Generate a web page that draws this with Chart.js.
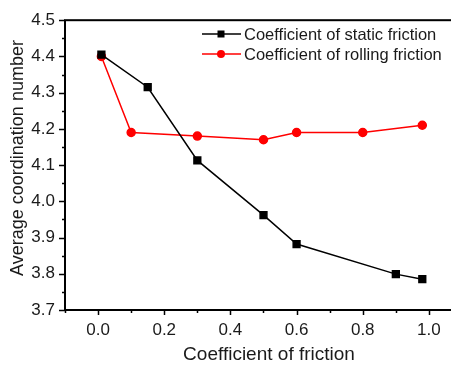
<!DOCTYPE html>
<html>
<head>
<meta charset="utf-8">
<script src="https://cdn.jsdelivr.net/npm/chart.js@4"></script>
<style>
  html, body { margin: 0; padding: 0; background: #fff; overflow: hidden; }
  #wrap { width: 472px; height: 365px; }
</style>
</head>
<body>
<div id="wrap"><canvas id="chart" width="472" height="365"></canvas></div>
<script>
// friction coefficient vs. average coordination number
let staticX = [0.01, 0.15, 0.3, 0.5, 0.6, 0.9, 0.98];
let staticY = [4.405, 4.315, 4.113, 3.962, 3.882, 3.799, 3.785];

let rollingX = [0.01, 0.1, 0.3, 0.5, 0.6, 0.8, 0.98];
let rollingY = [4.40, 4.19, 4.18, 4.17, 4.19, 4.19, 4.21];

let seriesNames = ["Coefficient of static friction", "Coefficient of rolling friction"];
let xTickLabels = ["0.0", "0.2", "0.4", "0.6", "0.8", "1.0"];
let yTickLabels = ["3.7", "3.8", "3.9", "4.0", "4.1", "4.2", "4.3", "4.4", "4.5"];
let xTitle = "Coefficient of friction";
let yTitle = "Average coordination number";

const FONT = "'Liberation Sans', Arial, sans-serif";
const INK = "#1a1a1a";

function toPoints(xs, ys) {
  return xs.map((x, i) => ({ x: x, y: ys[i] }));
}

// frame, outward major/minor ticks, axis titles and the legend box
const framePlugin = {
  id: "frame",
  afterDraw(chart) {
    let ctx = chart.ctx;
    let a = chart.chartArea;
    let xs = chart.scales.x;
    let ys = chart.scales.y;

    ctx.save();
    ctx.strokeStyle = "#000";
    ctx.lineWidth = 2;
    ctx.strokeRect(a.left, a.top, a.right - a.left, a.bottom - a.top);

    ctx.lineWidth = 1.5;
    ctx.beginPath();
    for (let i = -1; i <= 11; i++) {
      let v = i / 10;
      let px = Math.round(xs.getPixelForValue(v)) + 0.5;
      let len = (i % 2 === 0) ? 5 : 3;
      ctx.moveTo(px, a.bottom);
      ctx.lineTo(px, a.bottom + len);
    }
    for (let i = 0; i <= 16; i++) {
      let v = 3.7 + i * 0.05;
      let py = Math.round(ys.getPixelForValue(v)) + 0.5;
      let len = (i % 2 === 0) ? 6 : 3;
      ctx.moveTo(a.left, py);
      ctx.lineTo(a.left - len, py);
    }
    ctx.stroke();

    // axis titles
    ctx.fillStyle = INK;
    ctx.textAlign = "center";
    ctx.textBaseline = "middle";
    ctx.font = "19px " + FONT;
    ctx.fillText(xTitle, 269, 355);
    ctx.save();
    ctx.translate(18, 158);
    ctx.rotate(-Math.PI / 2);
    ctx.font = "18px " + FONT;
    ctx.fillText(yTitle, 0, 0);
    ctx.restore();

    // legend
    let rows = [34, 54];
    chart.data.datasets.forEach((ds, i) => {
      let y = rows[i];
      ctx.strokeStyle = ds.borderColor;
      ctx.lineWidth = ds.borderWidth;
      ctx.beginPath();
      ctx.moveTo(202, y);
      ctx.lineTo(241, y);
      ctx.stroke();

      ctx.fillStyle = ds.backgroundColor;
      if (ds.pointStyle === "rect") {
        ctx.fillRect(217.5, y - 3.5, 7, 7);
      } else {
        ctx.beginPath();
        ctx.arc(221, y, ds.pointRadius, 0, Math.PI * 2);
        ctx.fill();
      }

      ctx.fillStyle = INK;
      ctx.font = "16.5px " + FONT;
      ctx.textBaseline = "middle";
      ctx.textAlign = "left";
      ctx.fillText(ds.label, 244, y + 1);
    });
    ctx.restore();
  }
};

new Chart(document.getElementById("chart"), {
  type: "scatter",
  data: {
    datasets: [
      {
        label: seriesNames[0],
        data: toPoints(staticX, staticY),
        showLine: true,
        borderColor: "#000",
        backgroundColor: "#000",
        borderWidth: 1.5,
        pointStyle: "rect",
        pointRadius: 4.8,
        pointHoverRadius: 4.8
      },
      {
        label: seriesNames[1],
        data: toPoints(rollingX, rollingY),
        showLine: true,
        borderColor: "#ff0000",
        backgroundColor: "#ff0000",
        borderWidth: 1.5,
        pointStyle: "circle",
        pointRadius: 4,
        pointHoverRadius: 4
      }
    ]
  },
  options: {
    responsive: false,
    animation: false,
    layout: { padding: { top: 16, right: 8, left: 0, bottom: 0 } },
    plugins: {
      legend: { display: false },
      tooltip: { enabled: false }
    },
    scales: {
      x: {
        type: "linear",
        min: -0.1,
        max: 1.1,
        afterFit(scale) { scale.height = 55; },
        grid: { display: false, drawTicks: false },
        border: { display: false },
        ticks: {
          stepSize: 0.1,
          autoSkip: false,
          maxRotation: 0,
          padding: 10,
          color: INK,
          font: { family: FONT, size: 17 },
          callback(v) {
            let s = Number(v).toFixed(1);
            return xTickLabels.includes(s) ? s : "";
          }
        }
      },
      y: {
        min: 3.7,
        max: 4.5,
        afterFit(scale) { scale.width = 65; },
        grid: { display: false, drawTicks: false },
        border: { display: false },
        ticks: {
          stepSize: 0.1,
          padding: 10,
          color: INK,
          font: { family: FONT, size: 17 },
          callback(v) {
            let s = Number(v).toFixed(1);
            return yTickLabels.includes(s) ? s : "";
          }
        }
      }
    }
  },
  plugins: [framePlugin]
});
</script>
</body>
</html>
